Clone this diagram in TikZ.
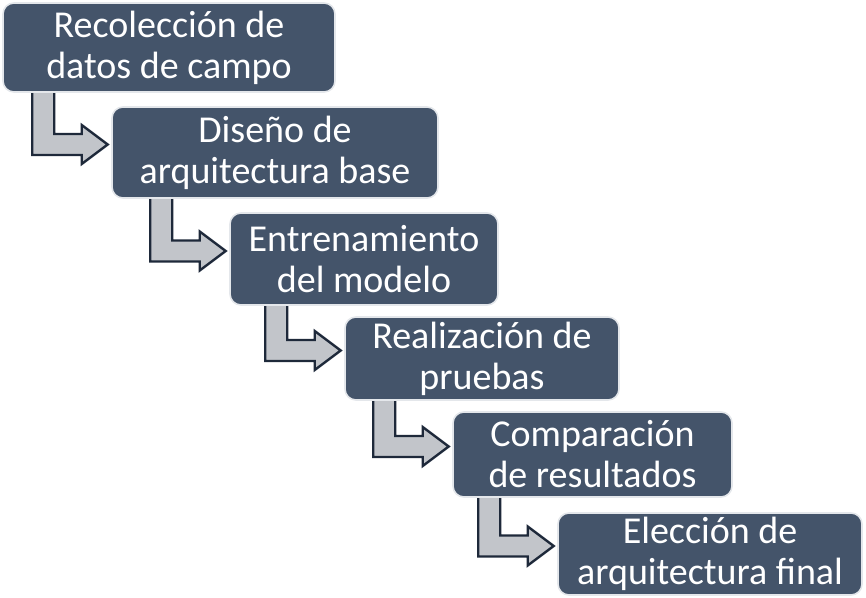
\documentclass[tikz,border=0pt]{standalone}
\usepackage{fontspec}
\setmainfont{Carlito}
\usetikzlibrary{calc,backgrounds}
\definecolor{boxfill}{HTML}{44546A}
\definecolor{boxedge}{HTML}{E4E7EB}
\definecolor{arrfill}{HTML}{C2C5CA}
\definecolor{arredge}{HTML}{1E293A}
\tikzset{
  stepbox/.style={rounded corners=11pt, fill=boxfill, draw=boxedge, line width=1.6pt,
    text=white, align=center, inner sep=0pt,
    font=\fontsize{38}{41}\selectfont},
  bentarr/.style={fill=arrfill, draw=arredge, line width=2.4pt, line join=miter},
}
\newcommand\bentarrow[2]{%
  \path[bentarr] let \p1=(#1.south), \p2=(#2.west),
      \n1={\x2-3.5pt}, \n2={\x2-79pt}, \n3={\y2+8pt} in
    (\n2,\y1+3pt) -- (\n2+22pt,\y1+3pt) -- (\n2+22pt,\n3+10.5pt)
    -- (\n1-26pt,\n3+10.5pt) -- (\n1-26pt,\n3+19.5pt) -- (\n1,\n3)
    -- (\n1-26pt,\n3-19.5pt) -- (\n1-26pt,\n3-10.5pt) -- (\n2,\n3-10.5pt) -- cycle;}
\begin{document}
\begin{tikzpicture}[x=1pt,y=-1pt]
\useasboundingbox (0,0) rectangle (866,597);
\node[stepbox, minimum width=332pt, minimum height=89pt] (b1) at (169,47.5) {Recolección de\\datos de campo};
\node[stepbox, minimum width=326pt, minimum height=91pt] (b2) at (275,152.5) {Diseño de\\arquitectura base};
\node[stepbox, minimum width=268pt, minimum height=92pt] (b3) at (364,259) {Entrenamiento\\del modelo};
\node[stepbox, minimum width=274pt, minimum height=83pt] (b4) at (482,358.5) {Realización de\\pruebas};
\node[stepbox, minimum width=279pt, minimum height=85pt] (b5) at (592.5,454.5) {Comparación\\de resultados};
\node[stepbox, minimum width=304pt, minimum height=82pt] (b6) at (710,554) {Elección de\\arquitectura final};
\begin{scope}[on background layer]
\bentarrow{b1}{b2}
\bentarrow{b2}{b3}
\bentarrow{b3}{b4}
\bentarrow{b4}{b5}
\bentarrow{b5}{b6}
\end{scope}
\end{tikzpicture}
\end{document}
